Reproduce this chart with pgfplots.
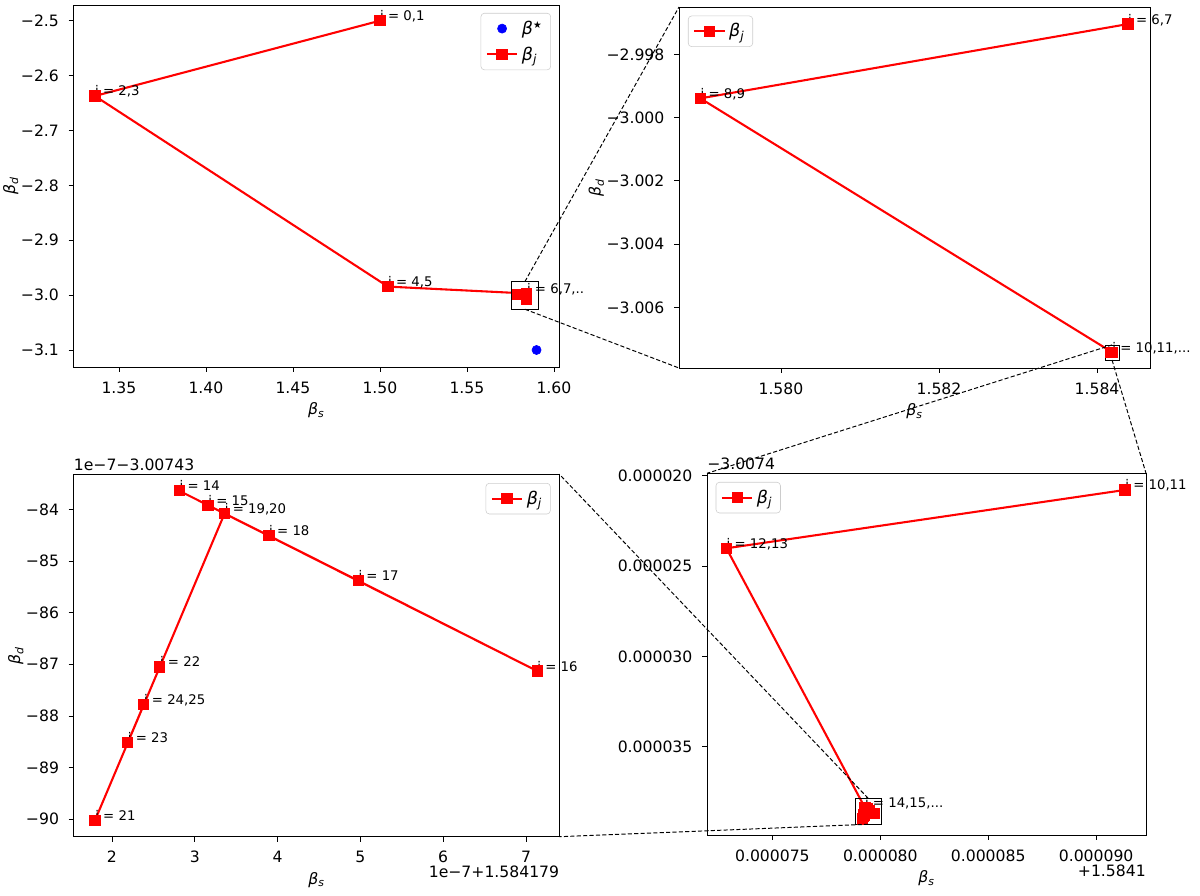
\documentclass[border=0pt]{standalone}
\usepackage{fontspec}
\setmainfont{DejaVu Sans}
\usepackage{pgfplots}
\pgfplotsset{compat=1.18}

\newcommand{\bs}[1]{\textit{β}\textsubscript{\textit{#1}}}
\newcommand{\tickfont}{\fontsize{11.3}{13.5}\selectfont}
\newcommand{\legfont}{\fontsize{12.6}{15}\selectfont}
\newcommand{\annfont}{\fontsize{9.6}{11.5}\selectfont}

\pgfplotsset{
  panel/.style={
    scale only axis,
    clip=false,
    axis line style={line width=0.6bp},
    tick align=outside,
    major tick length=3.5bp,
    every tick/.style={black, line width=0.6bp},
    xtick pos=left, ytick pos=left,
    scaled ticks=false,
    ticklabel style={font=\tickfont},
    xticklabel shift=3.5bp, yticklabel shift=3.5bp,
    label style={font=\tickfont},
    ylabel shift=-5bp,
    legend cell align=left,
    legend style={font=\legfont, draw=black!20, fill=white, rounded corners=2.5bp,
      inner xsep=3.5bp, inner ysep=3bp, row sep=2.5bp, nodes={inner sep=2.5bp}},
    legend image code/.code={\draw[mark repeat=2,mark phase=2] plot coordinates {(0bp,0bp) (11bp,0bp) (22bp,0bp)};},
  },
  traj/.style={red, line width=1.5bp, mark=square*, mark size=3.3bp, mark options={solid, fill=red}},
}
\tikzset{
  ann/.style={anchor=base west, inner sep=0pt, font=\annfont},
  insetbox/.style={draw=black, line width=0.6bp},
  conn/.style={black, line width=0.7bp, dash pattern=on 3bp off 1.6bp},
  offs/.style={inner sep=0pt, font=\tickfont},
}

\begin{document}
\begin{tikzpicture}
\useasboundingbox (0,0) rectangle (864bp,-645.12bp);

% top left: whole trajectory
\begin{axis}[panel, name=A, at={(52.92bp,-3.6bp)}, anchor=north west,
  width=349.56bp, height=260.64bp,
  xmin=1.3239, xmax=1.6029, ymin=-3.131, ymax=-2.4714,
  xtick={1.35,1.40,1.45,1.50,1.55,1.60},
  xticklabels={1.35,1.40,1.45,1.50,1.55,1.60},
  ytick={-3.1,-3.0,-2.9,-2.8,-2.7,-2.6,-2.5},
  yticklabels={−3.1,−3.0,−2.9,−2.8,−2.7,−2.6,−2.5},
  xlabel={\bs{s}}, ylabel={\bs{d}},
  legend style={at={(0.9835,0.978)}, anchor=north east}]
\addplot[only marks, mark=*, mark size=3.3bp, blue] coordinates {(1.59,-3.1)};
\addlegendentry{\textit{β}\textsuperscript{\fontsize{7}{8}\selectfont ★}}
\addplot[traj] coordinates {
  (1.5,-2.5) (1.3362,-2.6372) (1.5046,-2.9845) (1.58439,-2.99704)
  (1.57898,-2.99939) (1.58419,-3.00742) (1.58417,-3.00742) (1.58418,-3.00744)};
\addlegendentry{\bs{j}}
\node[ann] at (axis cs:1.5,-2.5) {j = 0,1};
\node[ann] at (axis cs:1.3362,-2.6372) {j = 2,3};
\node[ann] at (axis cs:1.5046,-2.9845) {j = 4,5};
\node[ann] at (axis cs:1.58439,-2.99704) {j = 6,7,..};
\draw[insetbox] (axis cs:1.5756,-2.9754) rectangle (axis cs:1.5910,-3.0257);
\coordinate (Atop) at (axis cs:1.5833,-2.9754);
\coordinate (Abot) at (axis cs:1.5833,-3.0257);
\end{axis}

% top right: zoom on j >= 6
\begin{axis}[panel, name=B, at={(488.88bp,-5.04bp)}, anchor=north west,
  width=339.12bp, height=259.92bp,
  xmin=1.57871, xmax=1.58467, ymin=-3.00792, ymax=-2.99650,
  xtick={1.580,1.582,1.584},
  xticklabels={1.580,1.582,1.584},
  ytick={-3.006,-3.004,-3.002,-3.000,-2.998},
  yticklabels={−3.006,−3.004,−3.002,−3.000,−2.998},
  xlabel={\bs{s}}, ylabel={\bs{d}},
  legend style={at={(0.019,0.976)}, anchor=north west}]
\addplot[traj] coordinates {
  (1.58439,-2.99704) (1.57898,-2.99939) (1.58419,-3.00742)
  (1.58417,-3.00742) (1.58418,-3.00744)};
\addlegendentry{\bs{j}}
\node[ann] at (axis cs:1.58439,-2.99704) {j = 6,7};
\node[ann] at (axis cs:1.57898,-2.99939) {j = 8,9};
\node[ann] at (axis cs:1.58419,-3.00742) {j = 10,11,...};
\draw[insetbox] (axis cs:1.58410,-3.00719) rectangle (axis cs:1.58428,-3.00767);
\coordinate (Btop) at (axis cs:1.58419,-3.00719);
\coordinate (Bbot) at (axis cs:1.58419,-3.00767);
\end{axis}

% bottom left: zoom on j >= 14
\begin{axis}[panel, name=C, at={(52.99bp,-341.5bp)}, anchor=north west,
  width=349.78bp, height=260.93bp,
  xmin=1.537, xmax=7.403, ymin=-90.34, ymax=-83.32,
  xtick={2,3,4,5,6,7},
  xticklabels={2,3,4,5,6,7},
  ytick={-90,-89,-88,-87,-86,-85,-84},
  yticklabels={−90,−89,−88,−87,−86,−85,−84},
  xlabel={\bs{s}}, ylabel={\bs{d}},
  legend style={at={(0.982,0.976)}, anchor=north east}]
\addplot[traj] coordinates {
  (2.814,-83.64) (3.161,-83.92) (7.134,-87.13) (4.974,-85.38) (3.896,-84.51)
  (3.360,-84.08) (1.796,-90.02) (2.578,-87.05) (2.190,-88.52) (2.384,-87.78)};
\addlegendentry{\bs{j}}
\node[ann] at (axis cs:2.814,-83.64) {j = 14};
\node[ann] at (axis cs:3.161,-83.92) {j = 15};
\node[ann] at (axis cs:7.134,-87.13) {j = 16};
\node[ann] at (axis cs:4.974,-85.38) {j = 17};
\node[ann] at (axis cs:3.896,-84.51) {j = 18};
\node[ann] at (axis cs:3.360,-84.08) {j = 19,20};
\node[ann] at (axis cs:1.796,-90.02) {j = 21};
\node[ann] at (axis cs:2.578,-87.05) {j = 22};
\node[ann] at (axis cs:2.190,-88.52) {j = 23};
\node[ann] at (axis cs:2.384,-87.78) {j = 24,25};
\node[offs, anchor=base west] at ([yshift=2.4bp]rel axis cs:0,1) {1e−7−3.00743};
\node[offs, anchor=base east] at ([yshift=-29bp]rel axis cs:1,0) {1e−7+1.584179};
\end{axis}

% bottom right: zoom on j >= 10
\begin{axis}[panel, name=D, at={(509.04bp,-340.78bp)}, anchor=north west,
  width=316.08bp, height=260.42bp,
  y dir=reverse,
  xmin=0.00007197, xmax=0.00009231, ymin=0.00001987, ymax=0.00003989,
  xtick={0.000075,0.00008,0.000085,0.00009},
  xticklabels={0.000075,0.000080,0.000085,0.000090},
  ytick={0.00002,0.000025,0.00003,0.000035},
  yticklabels={0.000020,0.000025,0.000030,0.000035},
  xlabel={\bs{s}},
  legend style={at={(0.0198,0.976)}, anchor=north west}]
\addplot[traj] coordinates {
  (0.00009134,0.00002079) (0.00007287,0.00002402)
  (0.000079281,0.000038364) (0.000079316,0.000038392) (0.000079713,0.000038713)
  (0.000079497,0.000038538) (0.000079390,0.000038451) (0.000079336,0.000038408)
  (0.000079180,0.000039002) (0.000079258,0.000038705) (0.000079219,0.000038852)
  (0.000079238,0.000038778)};
\addlegendentry{\bs{j}}
\node[ann] at (axis cs:0.00009134,0.00002079) {j = 10,11};
\node[ann] at (axis cs:0.00007287,0.00002402) {j = 12,13};
\node[ann] at (axis cs:0.000079281,0.000038364) {j = 14,15,...};
\draw[insetbox] (axis cs:0.00007883,0.000037857) rectangle (axis cs:0.00008004,0.000039297);
\coordinate (Dtop) at (axis cs:0.000079435,0.000037857);
\coordinate (Dbot) at (axis cs:0.000079435,0.000039297);
\node[offs, anchor=base west] at ([yshift=2.4bp]rel axis cs:0,1) {−3.0074};
\node[offs, anchor=base east] at ([yshift=-30bp]rel axis cs:1,0) {+1.5841};
\end{axis}

% connector lines of the zoom insets
\draw[conn] (Atop) -- (B.north west);
\draw[conn] (Abot) -- (B.south west);
\draw[conn] (Btop) -- (D.north west);
\draw[conn] (Bbot) -- (D.north east);
\draw[conn] (Dtop) -- (C.north east);
\draw[conn] (Dbot) -- (C.south east);
\end{tikzpicture}
\end{document}
